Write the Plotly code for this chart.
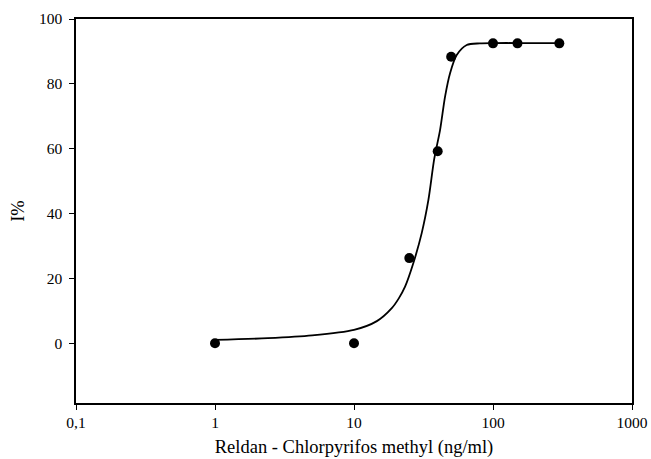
import plotly.graph_objects as go

# measured points
conc = [1, 10, 25, 40, 50, 100, 150, 300]
inhib = [0.2, 0.2, 26.4, 59.3, 88.4, 92.5, 92.5, 92.5]

# fitted curve
curve_x = [1, 2.4, 5, 10, 14.6, 18.7, 21.0, 23.3, 26.7, 30.7, 34.3, 37.8, 41.6,
           45.2, 49.1, 54.8, 64.7, 80.5, 100, 150, 300]
curve_y = [1.2, 1.75, 2.6, 4.3, 7.0, 11.0, 14.0, 17.6, 24.8, 34.1, 44.3, 57.0, 65.8,
           76.1, 83.3, 88.9, 92.0, 92.5, 92.6, 92.6, 92.6]

x_tickvals = [0.1, 1, 10, 100, 1000]
x_ticktext = ["0,1", "1", "10", "100", "1000"]
y_tickvals = [0, 20, 40, 60, 80, 100]

font_family = "Liberation Serif, Times New Roman, serif"

fig = go.Figure()
fig.add_trace(go.Scatter(
    x=curve_x, y=curve_y, mode="lines",
    line=dict(color="black", width=1.8, shape="spline", smoothing=0.8),
    showlegend=False, hoverinfo="skip"))
fig.add_trace(go.Scatter(
    x=conc, y=inhib, mode="markers",
    marker=dict(color="black", size=10, symbol="circle"),
    showlegend=False))

fig.update_layout(
    width=651, height=459,
    margin=dict(l=76, r=19, t=19, b=56, autoexpand=False),
    paper_bgcolor="white", plot_bgcolor="white",
    font=dict(family=font_family, color="black", size=15),
)
fig.update_xaxes(
    type="log", range=[-1, 3],
    tickvals=x_tickvals, ticktext=x_ticktext,
    ticks="outside", ticklen=5, tickwidth=1.3, tickcolor="black",
    showline=True, linecolor="black", linewidth=1.5, mirror=True,
    showgrid=False, zeroline=False, automargin=False,
    tickfont=dict(size=15.5, family=font_family),
    title=dict(text="Reldan - Chlorpyrifos methyl (ng/ml)",
               font=dict(size=18.5, family=font_family), standoff=10),
)
fig.update_yaxes(
    range=[-18.2, 100],
    tickvals=y_tickvals,
    ticks="outside", ticklen=5, tickwidth=1.3, tickcolor="black",
    showline=True, linecolor="black", linewidth=1.5, mirror=True,
    showgrid=False, zeroline=False, automargin=False,
    ticklabelstandoff=4,
    tickfont=dict(size=15.5, family=font_family),
    title=dict(text="I%", font=dict(size=18.5, family=font_family), standoff=9),
)

fig.write_html("out.html")
